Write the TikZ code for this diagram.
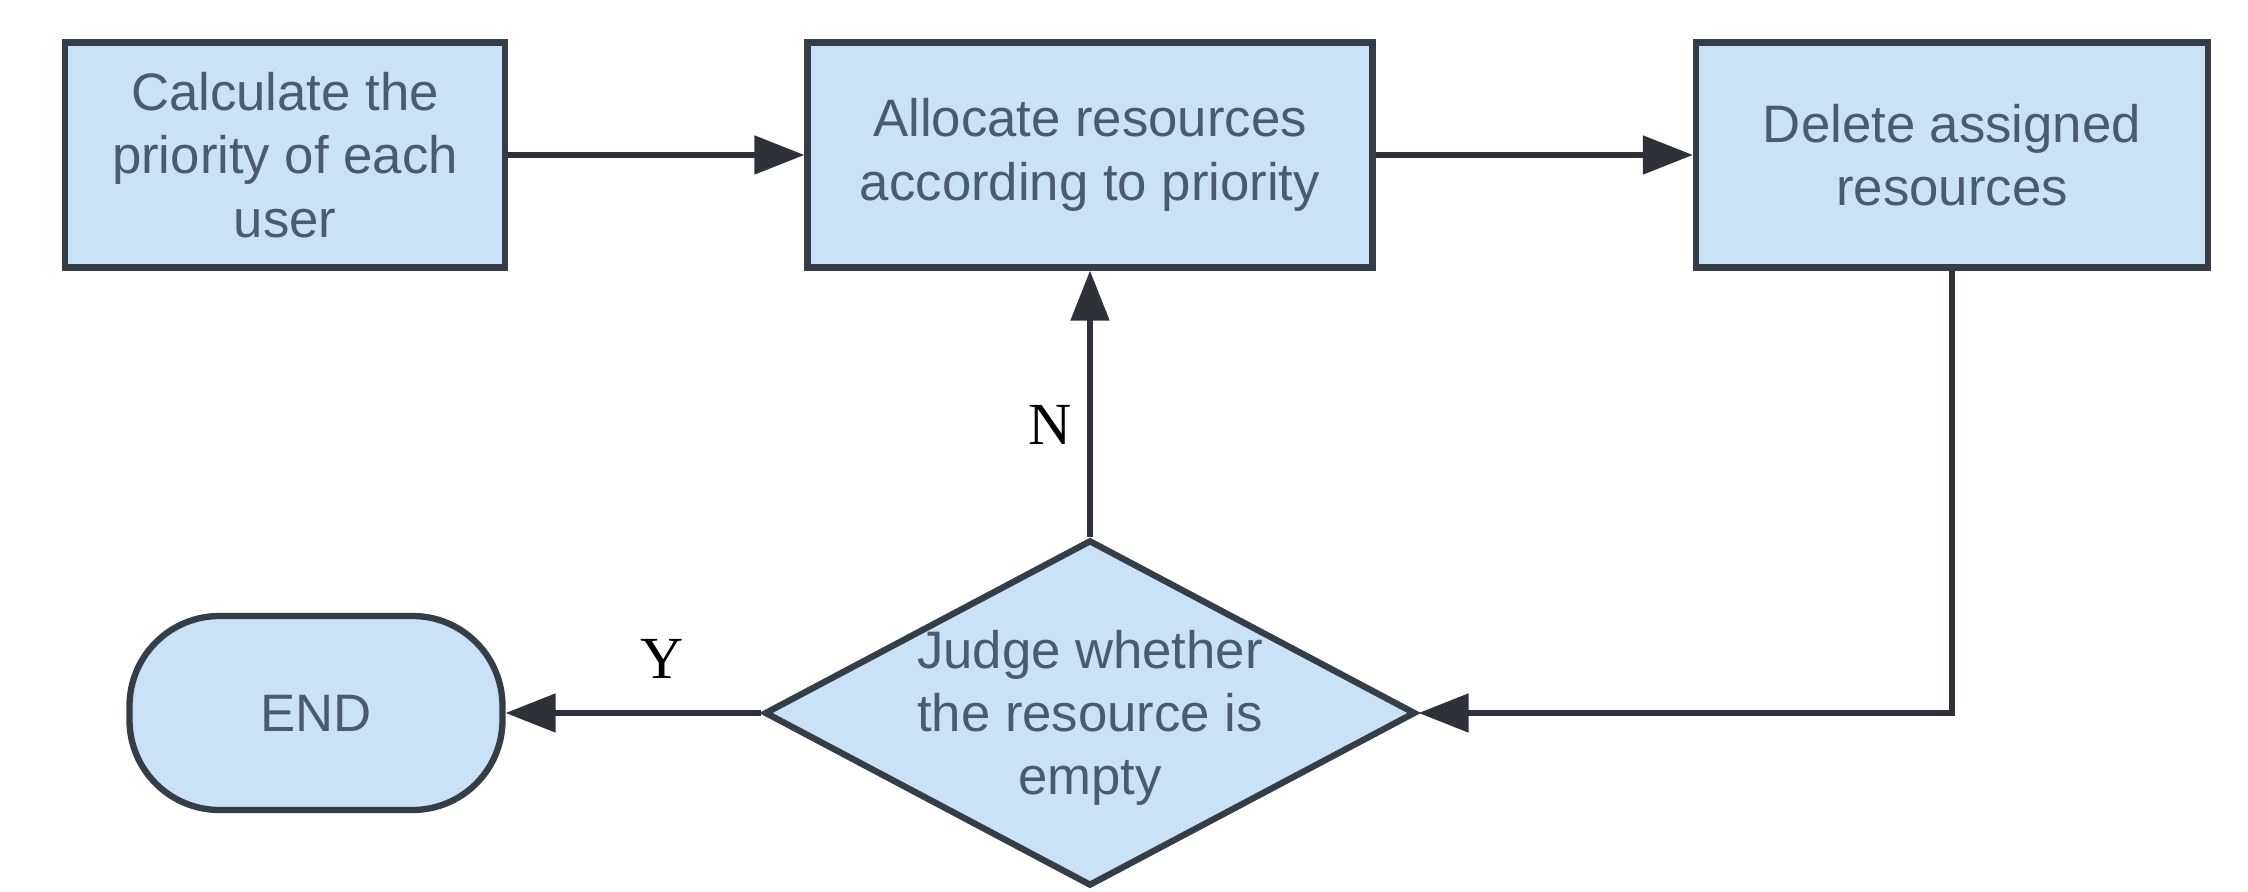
\documentclass[tikz,border=0pt]{standalone}
\usepackage{fontspec}
\setmainfont{Liberation Sans}
\newfontfamily\labelfont{Liberation Serif}
\usepackage{tikz}
\usetikzlibrary{shapes.geometric, arrows.meta, positioning}
\definecolor{boxfill}{HTML}{C9E2F8}
\definecolor{boxline}{HTML}{353D47}
\definecolor{arrowline}{HTML}{2E3238}
\definecolor{boxtext}{HTML}{4A5A70}
\tikzstyle{process} = [rectangle, minimum height=2.25cm, align=center, draw=boxline, line width=1.8pt, fill=boxfill, text=boxtext, font=\fontsize{15}{18}\selectfont]
\tikzstyle{startstop} = [rectangle, rounded corners=0.9cm, minimum width=3.73cm, minimum height=1.94cm, align=center, draw=boxline, line width=1.8pt, fill=boxfill, text=boxtext, font=\fontsize{15}{18}\selectfont]
\tikzstyle{decision} = [diamond, minimum width=6.51cm, minimum height=3.46cm, inner sep=0pt, draw=boxline, line width=1.8pt, fill=boxfill]
\tikzstyle{arrow} = [line width=1.5pt, draw=arrowline, -{Triangle[length=5mm, width=3.8mm]}]
\tikzstyle{yn} = [font=\labelfont\fontsize{17}{20}\selectfont, text=black]

\begin{document}
\begin{tikzpicture}[node distance=8cm]

\useasboundingbox (0,0) rectangle (22.48,8.92);

\node (calc) [process, minimum width=4.4cm] at (2.85,7.37) {Calculate the\\priority of each\\user};
\node (alloc) [process, minimum width=5.65cm, right of=calc, xshift=0.05cm] {Allocate resources\\according to priority};
\node (del) [process, minimum width=5.12cm, right of=alloc, xshift=0.62cm] {Delete assigned\\resources};
\node (judge) [decision, below of=alloc, yshift=2.42cm, label={[align=center, text=boxtext, font=\fontsize{15}{18}\selectfont, yshift=-0.05cm]center:{Judge whether\\the resource is\\empty}}] {};
\node (end) [startstop, left of=judge, xshift=0.26cm] {END};

\draw [arrow] (calc) -- (alloc);
\draw [arrow] (alloc) -- (del);
\draw [arrow] (del.south) |- (judge.east);
\draw [arrow] (judge.north) -- node[yn, pos=0.42, left=0.04cm] {N} (alloc.south);
\draw [arrow] (judge.west) -- node[yn, pos=0.39, above=0.2cm] {Y} (end.east);

\end{tikzpicture}
\end{document}
